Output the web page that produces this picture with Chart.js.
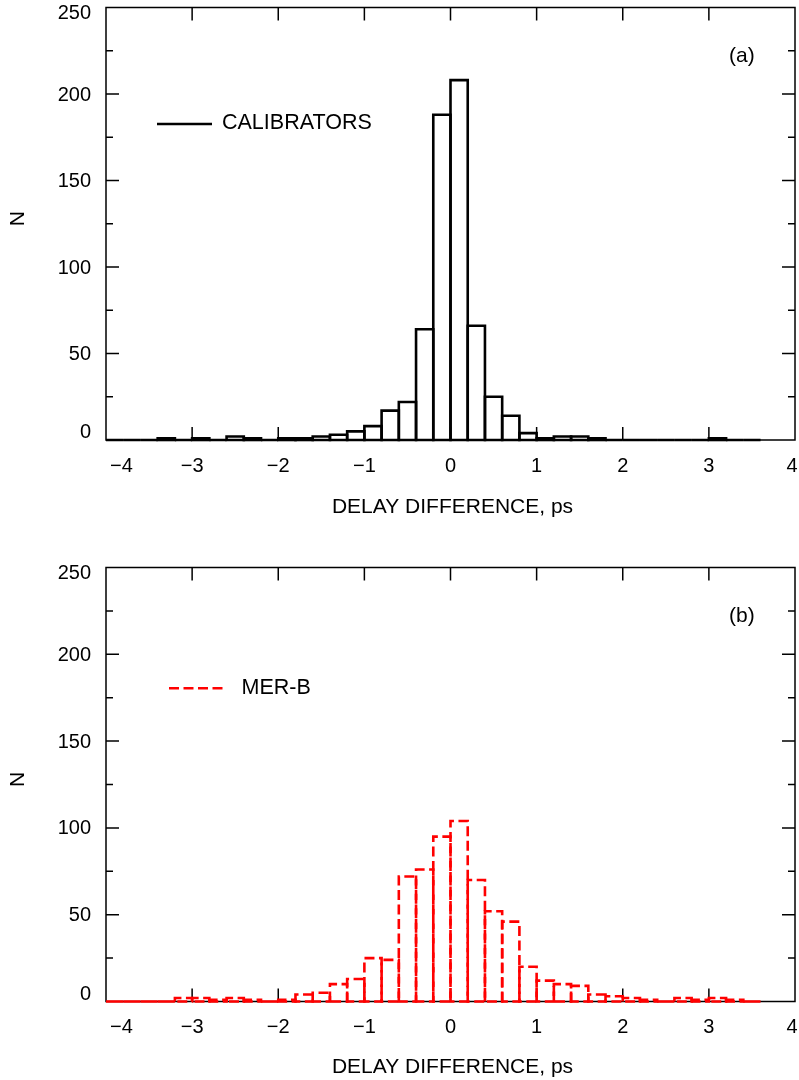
<!DOCTYPE html>
<html>
<head>
<meta charset="utf-8">
<script src="https://cdn.jsdelivr.net/npm/chart.js@4.4.1/dist/chart.umd.min.js"></script>
<style>
html,body{margin:0;padding:0;background:#ffffff;}
#wrap{position:relative;width:799px;height:1080px;overflow:hidden;}
.pane{position:absolute;left:0;width:799px;height:540px;}
canvas{display:block;}
</style>
</head>
<body>
<div id="wrap">
  <div class="pane" style="top:0px"><canvas id="c1" width="799" height="540"></canvas></div>
  <div class="pane" style="top:540px"><canvas id="c2" width="799" height="540"></canvas></div>
</div>
<script>
// ---------- DATA ----------
const binLeft = [-4.0,-3.8,-3.6,-3.4,-3.2,-3.0,-2.8,-2.6,-2.4,-2.2,-2.0,-1.8,-1.6,-1.4,-1.2,-1.0,-0.8,-0.6,-0.4,-0.2,
                 0.0,0.2,0.4,0.6,0.8,1.0,1.2,1.4,1.6,1.8,2.0,2.2,2.4,2.6,2.8,3.0,3.2,3.4];
const binWidth = 0.2;
const calibrators = [0,0,0,1,0,1,0,2,1,0,1,1,2,3,5,8,17,22,64,188,
                     208,66,25,14,4,1,2,2,1,0,0,0,0,0,0,1,0,0];
const merB = [0,0,0,0,2,2,1,2,1,0,1,4,5,10,13,25,24,72,76,95,
              104,70,52,46,20,12,10,9,4,3,2,1,0,2,1,2,1,0];
const xTicks = [-4,-3,-2,-1,0,1,2,3,4];
const yTicks = [0,50,100,150,200,250];
const yMinorTicks = [25,75,125,175,225];
const xTitle = 'DELAY DIFFERENCE, ps';
const yTitle = 'N';
const seriesLabels = ['CALIBRATORS','MER-B'];
const panelTags = ['(a)','(b)'];

// ---------- helpers ----------
const FONT = '"Liberation Sans", Arial, Helvetica, sans-serif';
function fmt(v){ return v < 0 ? '\u2212' + Math.abs(v) : String(v); }
function clamp(v, a, b){ return Math.max(a, Math.min(b, v)); }

const panelPlugin = {
  id: 'panel',
  beforeDatasetsDraw(chart, args, o) {
    const ctx = chart.ctx;
    const {left, right, top, bottom} = chart.chartArea;
    const xs = chart.scales.x, ys = chart.scales.y;
    ctx.save();
    ctx.strokeStyle = '#000';
    ctx.lineWidth = 1.5;
    ctx.strokeRect(left, top, right - left, bottom - top);
    ctx.beginPath();
    xTicks.forEach(v => {
      if (v <= xs.min || v >= xs.max) return;
      const px = xs.getPixelForValue(v);
      ctx.moveTo(px, bottom); ctx.lineTo(px, bottom - 13);
      ctx.moveTo(px, top); ctx.lineTo(px, top + 13);
    });
    yTicks.forEach(v => {
      if (v <= ys.min || v >= ys.max) return;
      const py = ys.getPixelForValue(v);
      ctx.moveTo(left, py); ctx.lineTo(left + 13, py);
      ctx.moveTo(right, py); ctx.lineTo(right - 13, py);
    });
    yMinorTicks.forEach(v => {
      const py = ys.getPixelForValue(v);
      ctx.moveTo(left, py); ctx.lineTo(left + 7, py);
      ctx.moveTo(right, py); ctx.lineTo(right - 7, py);
    });
    ctx.stroke();
    ctx.restore();
  },
  afterDatasetsDraw(chart, args, o) {
    const ctx = chart.ctx;
    const {left, right, top, bottom} = chart.chartArea;
    const xs = chart.scales.x, ys = chart.scales.y;
    const ds = chart.data.datasets[0];
    const meta = chart.getDatasetMeta(0);
    ctx.save();
    // histogram outlines
    ctx.strokeStyle = o.color;
    ctx.lineWidth = 2.6;
    ctx.lineJoin = 'miter';
    ctx.setLineDash(o.dash || []);
    meta.data.forEach(el => {
      const p = el.getProps(['x','y','base','width'], true);
      const l = p.x - p.width / 2, r = p.x + p.width / 2;
      ctx.beginPath();
      ctx.moveTo(l, p.base);
      ctx.lineTo(l, p.y);
      ctx.lineTo(r, p.y);
      ctx.lineTo(r, p.base);
      ctx.closePath();
      ctx.stroke();
    });
    ctx.setLineDash([]);
    // tick labels
    ctx.fillStyle = '#000';
    ctx.font = '20px ' + FONT;
    ctx.textBaseline = 'middle';
    ctx.textAlign = 'center';
    xTicks.forEach(v => {
      const t = fmt(v);
      const w = ctx.measureText(t).width;
      let cx = xs.getPixelForValue(v);
      cx = clamp(cx, left + 4 + w / 2, right + 2.5 - w / 2);
      ctx.fillText(t, cx, bottom + 26);
    });
    ctx.textAlign = 'right';
    yTicks.forEach(v => {
      const py = clamp(ys.getPixelForValue(v) + 1, top + 6, bottom - 7.5);
      ctx.fillText(fmt(v), left - 15, py);
    });
    // axis titles
    ctx.font = '21px ' + FONT;
    ctx.textAlign = 'center';
    ctx.fillText(xTitle, (left + right) / 2 + 2, bottom + o.titleDy);
    ctx.save();
    ctx.translate(18, (top + bottom) / 2 - 5);
    ctx.rotate(-Math.PI / 2);
    ctx.fillText(yTitle, 0, 0);
    ctx.restore();
    // legend
    const ly = top + o.legendDy;
    ctx.strokeStyle = o.color;
    ctx.lineWidth = 2.6;
    ctx.setLineDash(o.dash || []);
    ctx.beginPath();
    ctx.moveTo(o.legendX0, ly);
    ctx.lineTo(o.legendX1, ly);
    ctx.stroke();
    ctx.setLineDash([]);
    ctx.textAlign = 'left';
    ctx.font = '21.5px ' + FONT;
    ctx.fillText(ds.label, o.legendTextX, ly - 0.5);
    // panel tag
    ctx.font = '21px ' + FONT;
    ctx.fillText(o.tag, 729, top + 48.5);
    ctx.restore();
  }
};

function makeChart(id, values, label, cfg) {
  return new Chart(document.getElementById(id), {
    type: 'bar',
    data: {
      datasets: [{
        label: label,
        data: binLeft.map((b, i) => ({x: b + binWidth / 2, y: values[i]})),
        backgroundColor: 'rgba(0,0,0,0)',
        borderWidth: 0,
        barPercentage: 1,
        categoryPercentage: 1
      }]
    },
    options: {
      responsive: false,
      animation: false,
      devicePixelRatio: 1,
      layout: {padding: {top: cfg.padTop, right: 4, left: 0, bottom: 0}},
      plugins: {
        legend: {display: false},
        tooltip: {enabled: false},
        panel: cfg
      },
      scales: {
        x: {
          type: 'linear', min: -4, max: 4, offset: false,
          grid: {display: false}, border: {display: false},
          ticks: {display: false},
          afterFit: s => { s.height = cfg.xAxisH; }
        },
        y: {
          min: 0, max: 250,
          grid: {display: false}, border: {display: false},
          ticks: {display: false, stepSize: 50},
          afterFit: s => { s.width = 106; }
        }
      }
    },
    plugins: [panelPlugin]
  });
}

makeChart('c1', calibrators, seriesLabels[0], {
  padTop: 7.5, xAxisH: 100, color: '#000000', dash: [],
  titleDy: 67.5, legendDy: 116.5, legendX0: 157, legendX1: 212, legendTextX: 222, tag: panelTags[0]
});
makeChart('c2', merB, seriesLabels[1], {
  padTop: 27.5, xAxisH: 78.5, color: '#ff0000', dash: [10, 4.5],
  titleDy: 66, legendDy: 120.8, legendX0: 169, legendX1: 225, legendTextX: 241.5, tag: panelTags[1]
});
</script>
</body>
</html>
